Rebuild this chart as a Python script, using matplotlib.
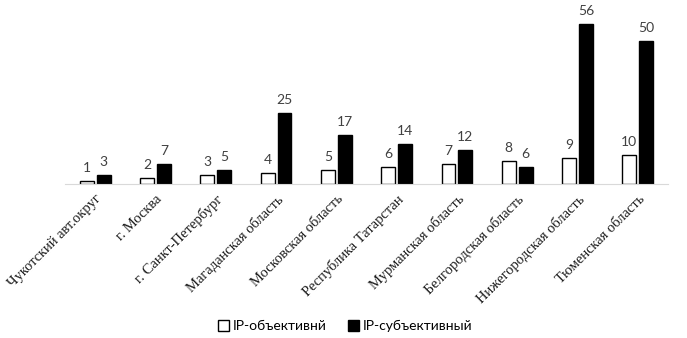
import matplotlib
matplotlib.use("Agg")
import matplotlib.pyplot as plt
import numpy as np

regions = ["Чукотский авт.округ", "г. Москва", "г. Санкт-Петербург",
           "Магаданская область", "Московская область", "Республика Татарстан",
           "Мурманская область", "Белгородская область", "Нижегородская область",
           "Тюменская область"]
ip_obj = [1, 2, 3, 4, 5, 6, 7, 8, 9, 10]
ip_subj = [3, 7, 5, 25, 17, 14, 12, 6, 56, 50]

fig = plt.figure(figsize=(6.87, 3.38), dpi=100)
ax = fig.add_axes([65 / 687, 1 - 184 / 338, 603 / 687, 179 / 338])

x = np.arange(len(regions))
w = 0.23
off = 0.14
b1 = ax.bar(x - off, ip_obj, w, color="white", edgecolor="black", linewidth=1.0,
            label="IP-объективнй")
b2 = ax.bar(x + off, ip_subj, w, color="black", edgecolor="black", linewidth=1.0,
            label="IP-субъективный")

for bars in (b1, b2):
    ax.bar_label(bars, padding=5, fontsize=10, color="#404040", family="Lato")

ax.set_xlim(-0.5, len(regions) - 0.5)
ax.set_ylim(0, 56 * 179 / 160)
ax.set_yticks([])
for s in ("top", "right", "left"):
    ax.spines[s].set_visible(False)
ax.spines["bottom"].set_color("#d9d9d9")
ax.tick_params(axis="x", length=0, pad=6)
ax.set_xticks(x)
ax.set_xticklabels(regions, rotation=45, ha="right", rotation_mode="anchor",
                   fontsize=10.5, family="Liberation Serif", color="#1a1a1a")

fig.legend(loc="center", bbox_to_anchor=(345 / 687, 1 - 326 / 338), ncol=2,
           frameon=False, prop={"family": "Lato", "size": 10},
           handlelength=0.8, handleheight=0.8, handletextpad=0.3, columnspacing=1.5)

fig.savefig("out.png", dpi=100)
